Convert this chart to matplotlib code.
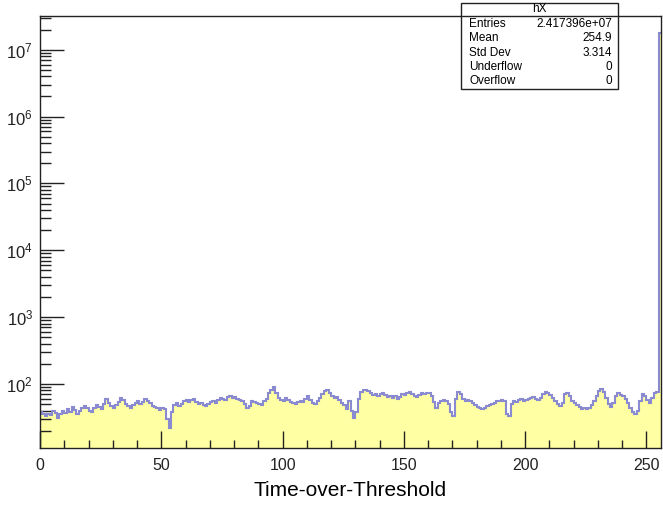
import matplotlib
matplotlib.use("Agg")
import matplotlib.pyplot as plt
from matplotlib.ticker import MultipleLocator, LogLocator, LogFormatterSciNotation, NullFormatter
from matplotlib.lines import Line2D
from matplotlib.patches import Rectangle
import numpy as np

# bin contents of hX, bins 0..255 (width 1)
counts_low = [
    38, 35, 33, 36, 34, 39, 37, 31, 35, 40, 37, 42, 38, 45, 41, 36, 39, 44, 47, 43,
    40, 38, 44, 48, 45, 42, 50, 60, 52, 47, 44, 49, 54, 62, 57, 50, 46, 43, 48, 52,
    55, 50, 53, 60, 56, 51, 47, 45, 43, 41, 44, 42, 30, 22, 38, 48, 52, 47, 50, 55,
    58, 53, 57, 60, 54, 50, 52, 48, 46, 50, 53, 56, 52, 58, 62, 60, 57, 63, 66, 62,
    64, 60, 58, 55, 50, 44, 47, 56, 54, 52, 50, 49, 55, 60, 72, 82, 90, 74, 62, 57,
    55, 62, 58, 54, 52, 50, 53, 56, 54, 60, 66, 58, 52, 50, 55, 62, 70, 78, 81, 72,
    66, 62, 64, 58, 52, 48, 42, 55, 40, 31, 38, 60, 75, 80, 81, 78, 72, 68, 70, 65,
    70, 74, 68, 64, 66, 62, 65, 60, 64, 70, 68, 72, 75, 70, 66, 64, 68, 72, 70, 74,
    72, 66, 54, 44, 52, 56, 58, 55, 50, 38, 33, 60, 75, 70, 60, 56, 58, 55, 52, 48,
    45, 43, 42, 44, 46, 48, 50, 52, 55, 56, 58, 55, 36, 33, 50, 56, 54, 58, 60, 56,
    58, 60, 62, 64, 60, 58, 62, 70, 75, 73, 68, 62, 56, 50, 47, 52, 70, 74, 65, 56,
    52, 48, 45, 42, 44, 42, 43, 48, 56, 65, 78, 85, 75, 62, 50, 45, 52, 66, 72, 68,
    65, 60, 52, 44, 38, 36, 40, 55, 70, 66, 58, 52, 62, 72, 75,
]
count_last = 1.8e7
x_min, x_max = 0, 256

stat_names = ["Entries", "Mean", "Std Dev", "Underflow", "Overflow"]
stat_values = ["2.417396e+07", "254.9", "3.314", "0", "0"]

plt.rcParams['font.family'] = ['Liberation Sans', 'DejaVu Sans']
plt.rcParams['mathtext.fontset'] = 'custom'
plt.rcParams['mathtext.rm'] = 'Liberation Sans'
plt.rcParams['mathtext.it'] = 'Liberation Sans:italic'

counts = np.array(counts_low + [count_last], dtype=float)
edges = np.arange(x_min, x_max + 1)

fig = plt.figure(figsize=(6.63, 5.05), dpi=100)
ax = fig.add_axes([40 / 663, 57 / 505, 621 / 663, 432 / 505])

ax.stairs(counts, edges, baseline=0.1, fill=True, color="#ffffa3", zorder=1)
ax.stairs(counts, edges, baseline=None, color="#8a8ad0", lw=1.5, zorder=2)

ax.set_yscale("log")
ax.set_xlim(x_min, x_max)
ax.set_ylim(11, 3.2e7)

ax.xaxis.set_major_locator(MultipleLocator(50))
ax.xaxis.set_minor_locator(MultipleLocator(10))
ax.yaxis.set_major_locator(LogLocator(base=10))
ax.yaxis.set_minor_locator(LogLocator(base=10, subs=np.arange(2, 10)))
ax.yaxis.set_major_formatter(LogFormatterSciNotation())
ax.yaxis.set_minor_formatter(NullFormatter())

ax.tick_params(which="both", direction="in", top=False, right=False, colors="#222222", width=1)
ax.tick_params(axis="y", which="major", length=17, pad=5, labelsize=12)
ax.tick_params(axis="y", which="minor", length=8)
ax.tick_params(axis="x", which="major", length=12, pad=7, labelsize=11.5)
ax.tick_params(axis="x", which="minor", length=6)
for s in ax.spines.values():
    s.set_linewidth(1)
    s.set_color("#222222")

ax.set_xlabel("Time-over-Threshold", fontsize=15, labelpad=6)

# stats box
bx0, bx1 = 461 / 663, 618 / 663
by0, by1 = 1 - 89 / 505, 1 - 3 / 505
fig.patches.append(Rectangle((bx0, by0), bx1 - bx0, by1 - by0, transform=fig.transFigure,
                             facecolor="white", edgecolor="#222222", lw=1, zorder=5))
fig.lines.append(Line2D([bx0, bx1], [1 - 16 / 505, 1 - 16 / 505], transform=fig.transFigure,
                        color="#222222", lw=1, zorder=6))
fig.text((bx0 + bx1) / 2, 1 - 9.5 / 505, "hX", ha="center", va="center", fontsize=8.5, zorder=7)
for i, (nm, val) in enumerate(zip(stat_names, stat_values)):
    yy = 1 - (24 + 14.3 * i) / 505
    fig.text(469 / 663, yy, nm, ha="left", va="center", fontsize=8.5, zorder=7)
    fig.text(612 / 663, yy, val, ha="right", va="center", fontsize=8.5, zorder=7)

fig.savefig("out.png", dpi=100)
